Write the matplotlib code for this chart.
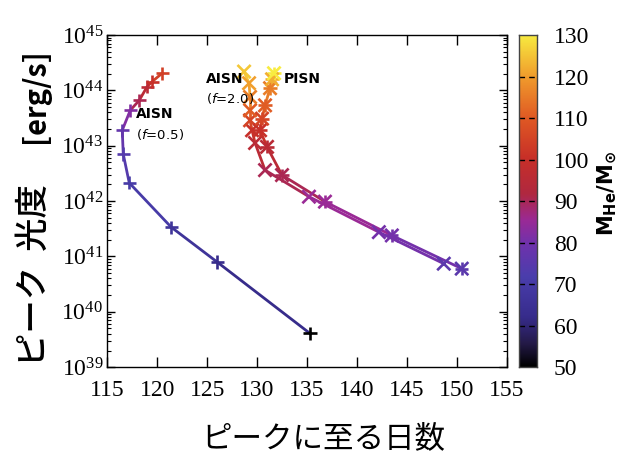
import numpy as np
import matplotlib
matplotlib.use("Agg")
import matplotlib.pyplot as plt
from matplotlib.colors import LinearSegmentedColormap, Normalize
from matplotlib.collections import LineCollection
from matplotlib.ticker import FixedLocator, LogLocator, LogFormatterMathtext, NullFormatter

plt.rcParams["font.family"] = ["Liberation Serif", "DejaVu Serif"]
plt.rcParams["mathtext.fontset"] = "custom"
plt.rcParams["mathtext.rm"] = "Liberation Serif"
plt.rcParams["mathtext.bf"] = "DejaVu Sans:bold"
plt.rcParams["mathtext.it"] = "DejaVu Sans:italic"

# AISN, f = 0.5  (days to peak, log10 peak luminosity, He-core mass)
aisn05_days = [135.3, 126.0, 121.4, 117.2, 116.6, 116.5, 117.3, 118.2, 119.0, 119.5, 120.5]
aisn05_logL = [39.61, 40.90, 41.53, 42.33, 42.85, 43.28, 43.64, 43.82, 44.07, 44.16, 44.31]
aisn05_mass = [50, 62, 66, 70, 74, 77, 82, 90, 95, 100, 104]

# AISN, f = 2.0
aisn20_days = [148.7, 142.2, 135.2, 130.8, 129.8, 129.5, 129.3, 129.3, 129.3, 129.2, 128.7]
aisn20_logL = [40.87, 41.44, 42.08, 42.56, 43.05, 43.28, 43.46, 43.64, 43.88, 44.13, 44.34]
aisn20_mass = [75, 80, 85, 90, 95, 100, 105, 110, 115, 120, 125]

# PISN
pisn_days = [150.5, 143.5, 136.8, 132.5, 131.0, 130.3, 130.5, 130.8, 131.3, 131.5, 131.7]
pisn_logL = [40.78, 41.38, 41.99, 42.47, 42.98, 43.28, 43.49, 43.73, 44.04, 44.20, 44.31]
pisn_mass = [75, 80, 85, 90, 95, 100, 105, 110, 115, 122, 130]

cbar_ticks = [50, 60, 70, 80, 90, 100, 110, 120, 130]
x_ticks = [115, 120, 125, 130, 135, 140, 145, 150, 155]
y_decades = [39, 40, 41, 42, 43, 44, 45]

# black -> blue -> purple -> red -> orange -> yellow palette
pal_stops = [(0.0, "#000000"), (0.07, "#241a48"), (0.15, "#372c8c"),
             (0.27, "#4a3eac"), (0.37, "#7032ac"), (0.44, "#9a2a96"),
             (0.52, "#b02840"), (0.63, "#c83028"), (0.75, "#e05a24"),
             (0.87, "#f09a2c"), (1.0, "#f8ec40")]
cmap = LinearSegmentedColormap.from_list("pal", pal_stops)
norm = Normalize(vmin=50, vmax=130)

fig = plt.figure(figsize=(6.31, 4.55), dpi=100)
ax = fig.add_axes([0.170, 0.193, 0.633, 0.730])
cax = fig.add_axes([0.8225, 0.193, 0.029, 0.730])


def draw_track(days, logL, mass, markers):
    days = np.asarray(days)
    lum = 10.0 ** np.asarray(logL)
    mass = np.asarray(mass, dtype=float)
    pts = np.column_stack([days, lum])
    segs = np.stack([pts[:-1], pts[1:]], axis=1)
    # each segment takes the colour of its heavier end
    seg_mass = np.maximum(mass[:-1], mass[1:])
    lc = LineCollection(segs, colors=cmap(norm(seg_mass)), linewidths=2.0, zorder=2)
    ax.add_collection(lc)
    for m in markers:
        ax.scatter(days, lum, c=mass, cmap=cmap, norm=norm, marker=m,
                   s=90, linewidths=1.9, zorder=3)


draw_track(aisn05_days, aisn05_logL, aisn05_mass, ["+"])
draw_track(aisn20_days, aisn20_logL, aisn20_mass, ["x"])
draw_track(pisn_days, pisn_logL, pisn_mass, ["+", "x"])

ax.set_xlim(115, 155)
ax.set_yscale("log")
ax.set_ylim(1e39, 1e45)
ax.set_xticks(x_ticks)
ax.yaxis.set_major_locator(FixedLocator([10.0 ** d for d in y_decades]))
ax.yaxis.set_minor_locator(LogLocator(base=10, subs=np.arange(2, 10), numticks=20))
ax.yaxis.set_major_formatter(LogFormatterMathtext())
ax.yaxis.set_minor_formatter(NullFormatter())
ax.tick_params(which="both", direction="in", top=True, right=True, labelsize=17)
ax.tick_params(axis="x", which="major", length=7, width=1, pad=9)
ax.tick_params(axis="y", which="major", length=6, width=1, pad=3)
ax.tick_params(axis="y", which="minor", length=3, width=0.8)
for s in ax.spines.values():
    s.set_linewidth(1.0)

jp = ["Noto Sans CJK JP", "DejaVu Sans"]
ax.text(117.9, 10 ** 43.57, "AISN", fontsize=10, fontweight="bold",
        family=["DejaVu Sans"], ha="left", va="center")
ax.text(117.9, 10 ** 43.2, r"($\it{f}$=0.5)", fontsize=9.5,
        family=["DejaVu Sans"], ha="left", va="center")
ax.text(124.9, 10 ** 44.2, "AISN", fontsize=10, fontweight="bold",
        family=["DejaVu Sans"], ha="left", va="center")
ax.text(124.9, 10 ** 43.85, r"($\it{f}$=2.0)", fontsize=9.5,
        family=["DejaVu Sans"], ha="left", va="center")
ax.text(132.7, 10 ** 44.2, "PISN", fontsize=10, fontweight="bold",
        family=["DejaVu Sans"], ha="left", va="center")

fig.text(0.513, 0.037, "ピークに至る日数", family=jp, fontsize=22,
         ha="center", va="center")
# y label: Japanese part in medium weight, unit in bold
fig.text(0.055, 0.395, "ピーク  光度", family=jp, fontsize=24,
         fontweight="medium", rotation=90, ha="center", va="center")
fig.text(0.055, 0.79, "[erg/s]", family=jp, fontsize=21,
         fontweight="bold", rotation=90, ha="center", va="center")

# colour bar with dashed level marks
grad = np.linspace(50, 130, 256).reshape(-1, 1)
cax.imshow(grad, cmap=cmap, norm=norm, aspect="auto", origin="lower",
           extent=[0, 1, 50, 130])
cax.set_xlim(0, 1)
cax.set_ylim(50, 130)
cax.set_xticks([])
cax.set_yticks(cbar_ticks)
cax.yaxis.tick_right()
cax.tick_params(axis="y", length=0, pad=12, labelsize=17)
cax.hlines(cbar_ticks[1:-1], 0, 1, colors="black", linestyles=(0, (4, 3)), linewidth=1.0)
for s in cax.spines.values():
    s.set_linewidth(1.0)
    s.set_color("#444444")
fig.text(0.962, 0.575, r"$\mathbf{M_{He}/M_{\odot}}$", fontsize=15,
         rotation=90, ha="center", va="center")

fig.savefig("out.png", dpi=100)
